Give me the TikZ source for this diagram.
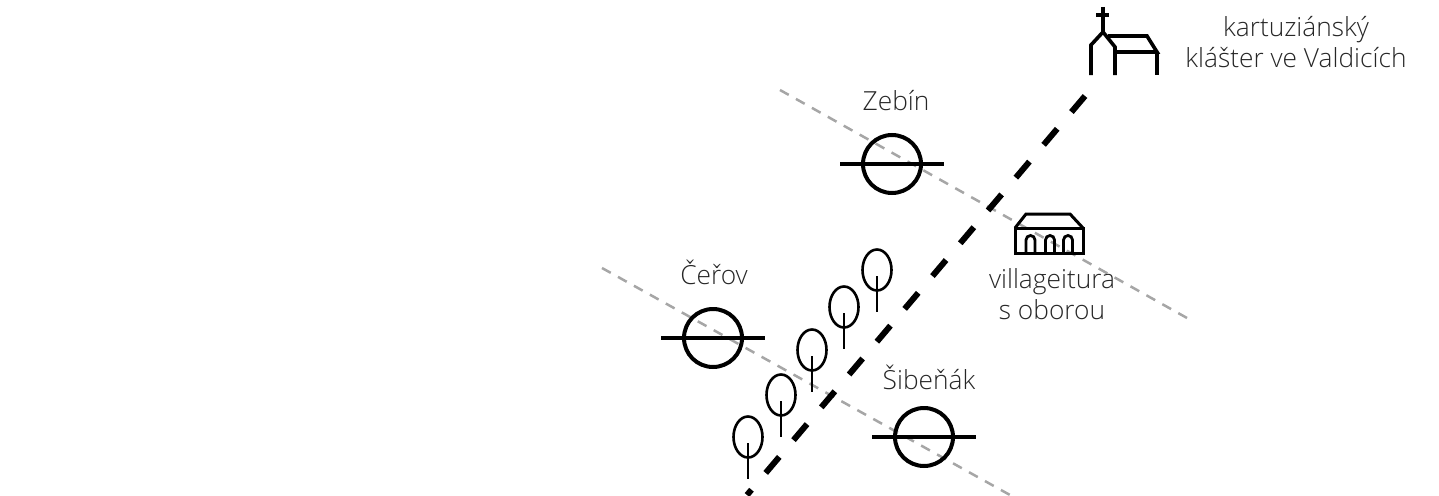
\documentclass[tikz,border=0pt]{standalone}
\usepackage{fontspec}
\setmainfont{Open Sans Light}
\usetikzlibrary{shapes.geometric}
\begin{document}
\begin{tikzpicture}[x=1pt,y=-1pt,
  label text/.style={inner sep=0pt,font=\fontsize{26.3pt}{31pt}\selectfont,text=black!85,align=center},
  pond/.style={circle,draw=black,line width=4pt,minimum size=58pt,inner sep=0pt},
  bar/.style={draw=black,line width=3.6pt},
  road/.style={draw=black,line width=6pt,dash pattern=on 21pt off 22pt},
  boundary/.style={draw=black!35,line width=2.5pt,dash pattern=on 10pt off 8.26pt},
  crown/.style={ellipse,draw=black,line width=2.6pt,minimum width=29pt,minimum height=41pt,inner sep=0pt},
  trunk/.style={draw=black,line width=2.6pt},
  icon/.style={draw=black,line width=3.6pt,line join=miter}]
\useasboundingbox (0,0) rectangle (1439,495);
\coordinate (b1a) at (780,90); \coordinate (b1b) at (1187,318);
\coordinate (b2a) at (602,268); \coordinate (b2b) at (1010,495);
\coordinate (ra) at (1085,96); \coordinate (rb) at (747,495);
\draw[boundary] (b1a) -- (b1b);
\draw[boundary] (b2a) -- (b2b);
\draw[road] (ra) -- (rb);
% ponds
\node[pond] (zebin) at (892,164) {};
\node[pond] (cerov) at (713,338) {};
\node[pond] (siben) at (924,437) {};
\draw[bar] (840,164) -- (944,164);
\draw[bar] (661,338) -- (765,338);
\draw[bar] (872,437) -- (976,437);
% trees
\foreach \n/\x/\y in {t1/748/437,t2/781/395,t3/812/350,t4/844/307,t5/877/270}{
  \node[crown] (\n) at (\x,\y) {};
  \draw[trunk] (\x,\y+6) -- (\x,\y+42);
}
% church
\draw[icon] (1103,7) -- (1103,32);
\draw[icon] (1096,15) -- (1109,15);
\draw[icon] (1091,75) -- (1091,45) -- (1103,32) -- (1115,47) -- (1115,75);
\draw[icon] (1108,36) -- (1147,36) -- (1157,52) -- (1115,52);
\draw[icon] (1157,52) -- (1157,75);
% villa
\draw[icon,line width=3pt] (1015,228) rectangle (1083,253);
\draw[icon,line width=3pt] (1015,228) -- (1026,214) -- (1070,214) -- (1083,228);
\foreach \a/\b in {1026/1035,1045.5/1054.5,1063.5/1072.5}{
  \draw[icon,line width=2.8pt] (\a,253) -- (\a,240) arc[start angle=180,end angle=360,radius={(\b-\a)/2}] -- (\b,253);
}
% labels
\node[label text] (lz) at (896,101) {Zebín};
\node[label text] (lc) at (714,272.5) {Čeřov};
\node[label text] (ls) at (929,377) {Šibeňák};
\node[label text] (lv) at (1052,294) {villageitura\\s oborou};
\node[label text] (lk) at (1296,42.5) {kartuziánský\\klášter ve Valdicích};
\end{tikzpicture}
\end{document}
